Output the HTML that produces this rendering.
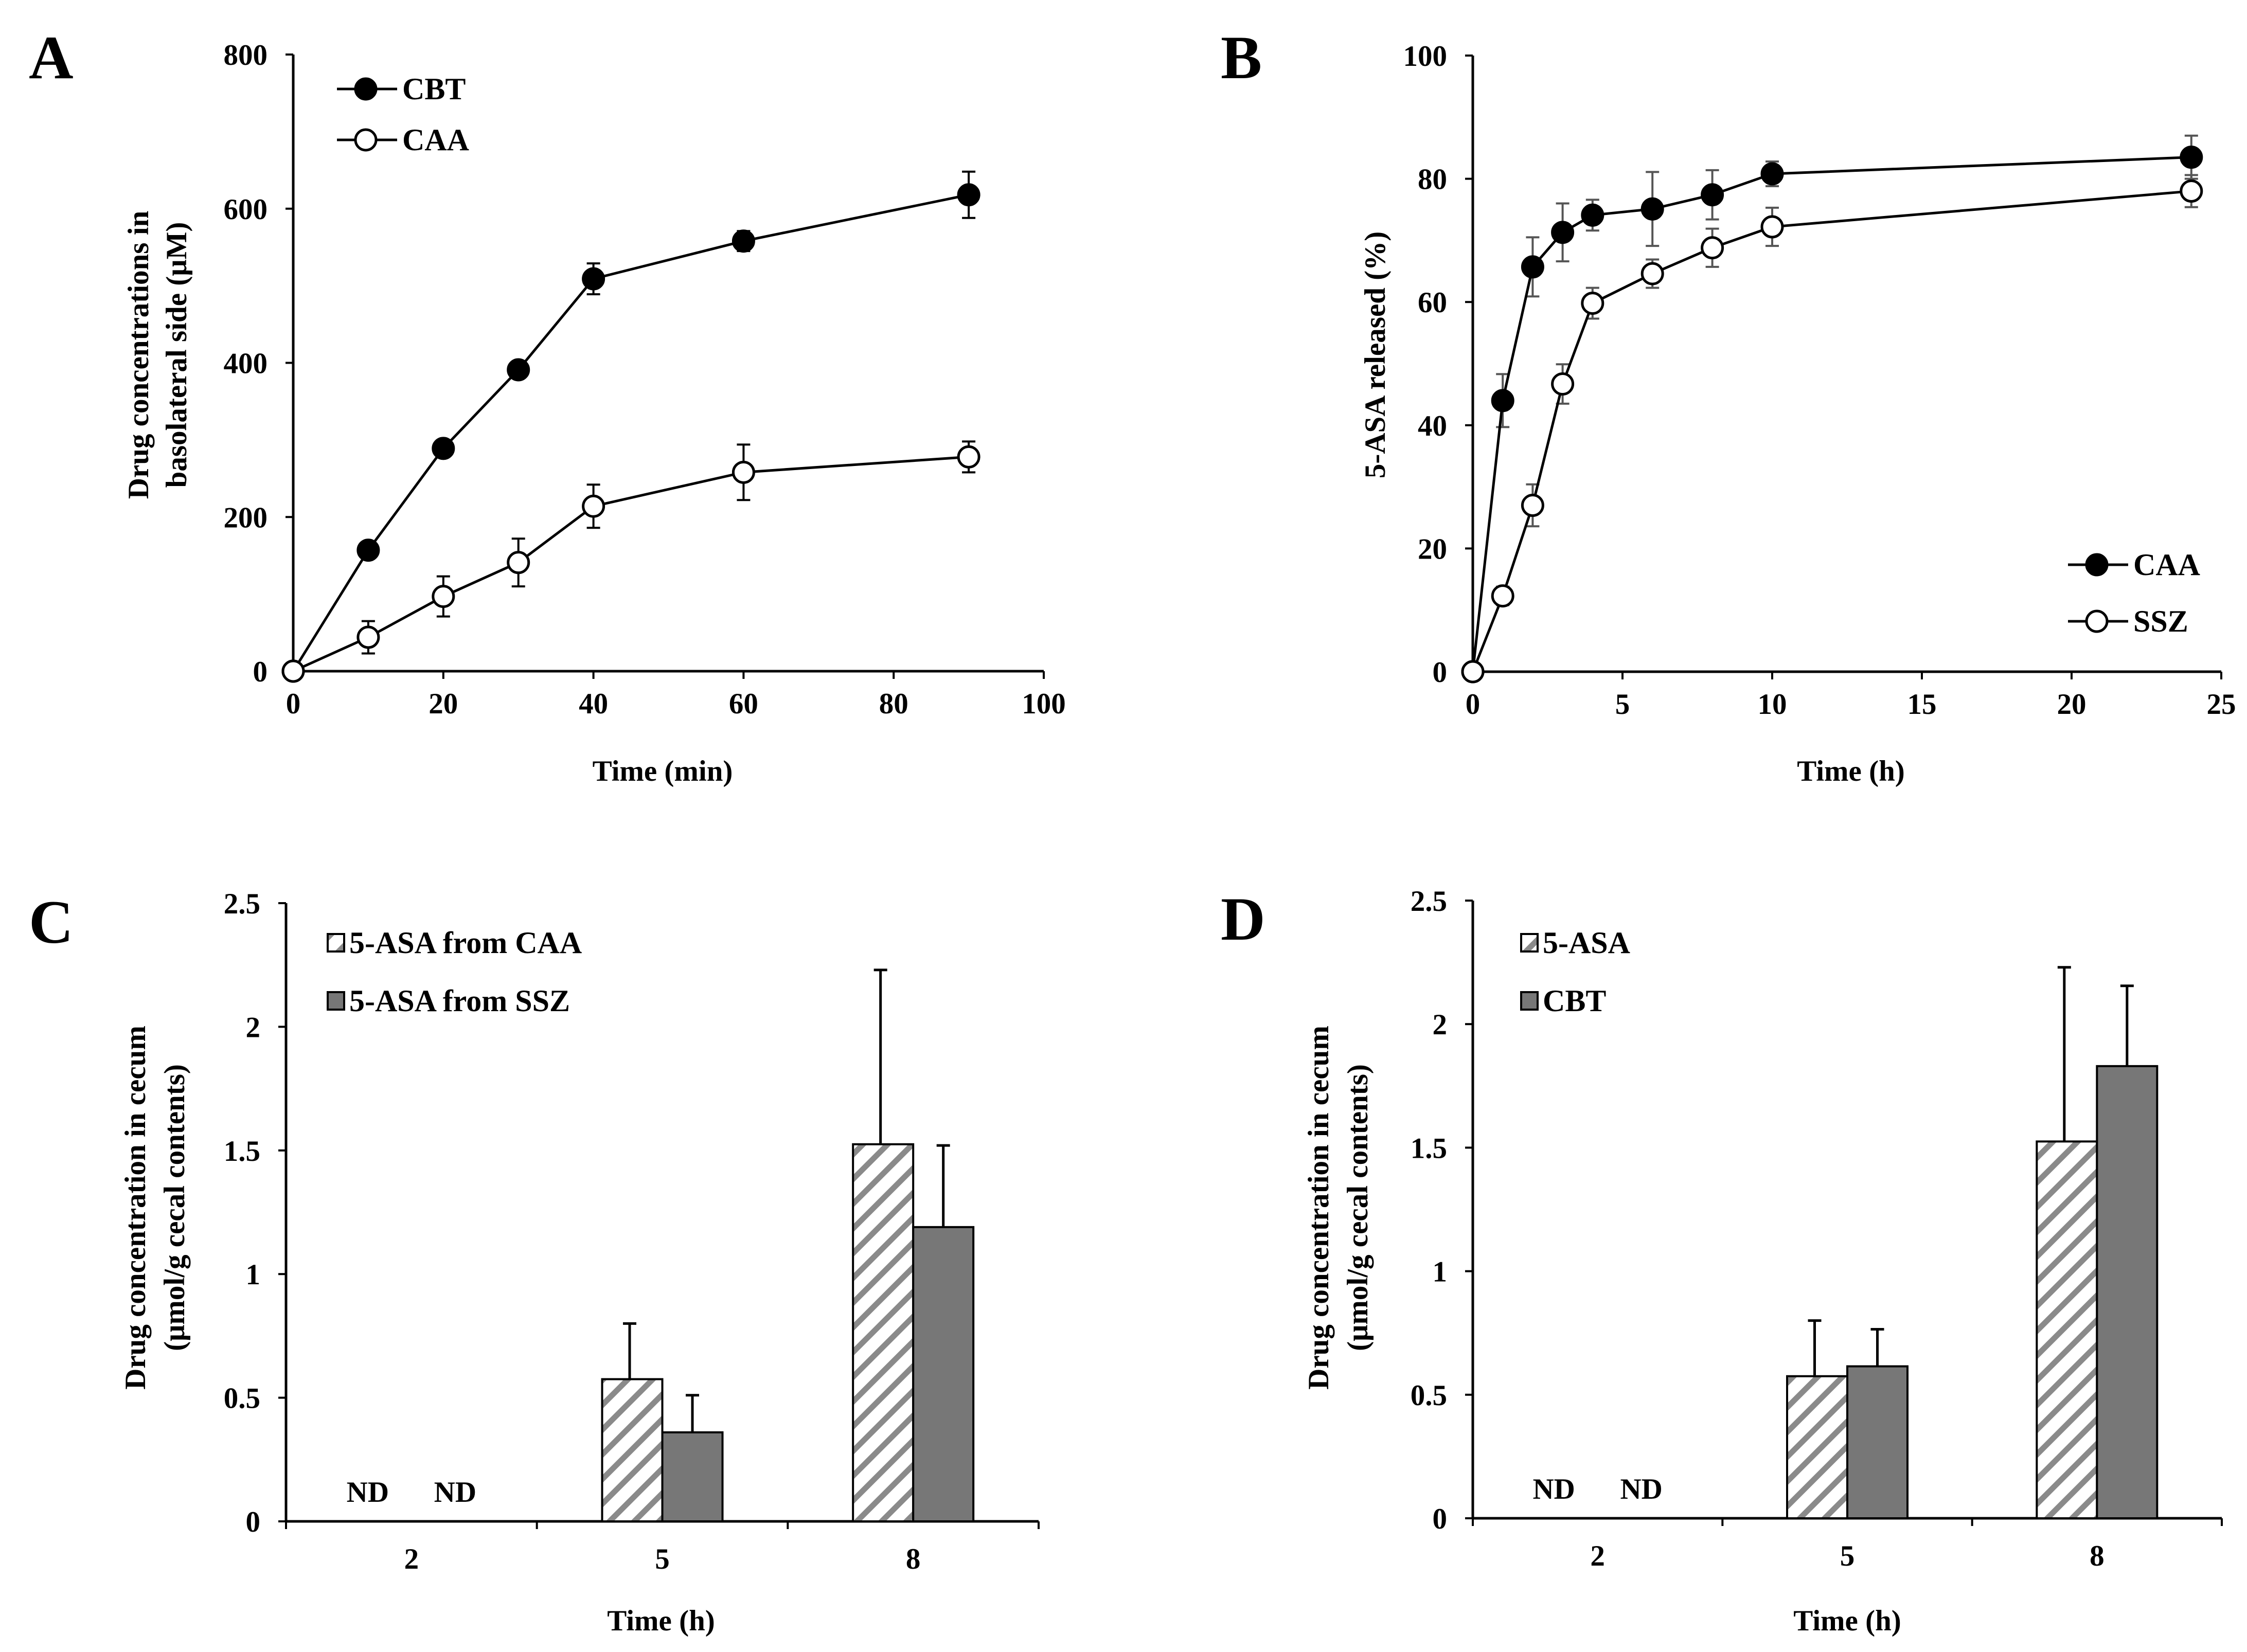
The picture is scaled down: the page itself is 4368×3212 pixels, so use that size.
<!DOCTYPE html>
<html><head><meta charset="utf-8">
<style>
html,body{margin:0;padding:0;background:#fff;}
svg{display:block;font-family:"Liberation Serif",serif;font-weight:bold;}
</style></head>
<body>
<svg id="fig" width="4368" height="3212" viewBox="0 0 4368 3212" xmlns="http://www.w3.org/2000/svg">
<defs>
<pattern id="hatch" patternUnits="userSpaceOnUse" width="34" height="34" patternTransform="rotate(45)">
<rect width="34" height="34" fill="#fff"/>
<rect x="0" y="0" width="11" height="34" fill="#8a8a8a"/>
</pattern>
</defs>
</svg>
<script>
// Panel A data
const aTime=[0,10,20,30,40,60,90];
const aCBT=[0,157,289,391,509,558,618];
const aCBTerr=[0,0,0,0,20,13,30];
const aCAA=[0,44,97,141,214,258,278];
const aCAAerr=[0,21,26,31,28,36,20];
const aXTicks=[0,20,40,60,80,100];
const aYTicks=[0,200,400,600,800];
// Panel B data
const bTime=[0,1,2,3,4,6,8,10,24];
const bCAA=[0,44,65.7,71.3,74.1,75.1,77.4,80.8,83.5];
const bCAAerr=[0,4.3,4.8,4.7,2.5,6,4,2,3.5];
const bSSZ=[0,12.3,27,46.7,59.8,64.6,68.8,72.2,78];
const bSSZerr=[0,1.5,3.4,3.2,2.5,2.3,3.1,3.1,2.6];
const bXTicks=[0,5,10,15,20,25];
const bYTicks=[0,20,40,60,80,100];
// Panel C data
const barCats=["2","5","8"];
const cCAA=[0,0.575,1.525];
const cCAAerr=[0,0.225,0.705];
const cSSZ=[0,0.36,1.19];
const cSSZerr=[0,0.15,0.33];
// Panel D data
const dASA=[0,0.575,1.525];
const dASAerr=[0,0.225,0.705];
const dCBT=[0,0.615,1.83];
const dCBTerr=[0,0.15,0.325];
const barYTicks=[0,0.5,1,1.5,2,2.5];
const barYLabels=["0","0.5","1","1.5","2","2.5"];

const NS="http://www.w3.org/2000/svg";
const svg=document.getElementById('fig');
const FS=57;
function el(tag,attrs,parent,text){const e=document.createElementNS(NS,tag);for(const k in attrs)e.setAttribute(k,attrs[k]);if(text!==undefined)e.textContent=text;(parent||svg).appendChild(e);return e;}
function grp(name){const g=el('g',{});return g;}
function txt(g,x,y,s,size,anchor,name,rot){const t=el('text',{x:x,y:y,'font-size':size,'text-anchor':anchor||'middle'},g,s);if(rot)t.setAttribute('transform','rotate(-90 '+x+' '+y+')');return t;}

function linePanel(o){
  const g=grp(o.name);
  const X=v=>o.x0+(v-o.xmin)/(o.xmax-o.xmin)*(o.x1-o.x0);
  const Y=v=>o.y0-(v-0)/(o.ymax)*(o.y0-o.y1);
  const ax=grp(o.name+'-axes');g.appendChild(ax);
  el('line',{x1:o.x0,y1:o.y1,x2:o.x0,y2:o.y0,stroke:'#000','stroke-width':5},ax);
  el('line',{x1:o.x0,y1:o.y0,x2:o.x1,y2:o.y0,stroke:'#000','stroke-width':5},ax);
  o.yticks.forEach(v=>{el('line',{x1:o.x0-15,y1:Y(v),x2:o.x0,y2:Y(v),stroke:'#000','stroke-width':4},ax);txt(ax,o.x0-50,Y(v)+20,String(v),FS,'end','y-tick-label');});
  o.xticks.forEach(v=>{el('line',{x1:X(v),y1:o.y0,x2:X(v),y2:o.y0+15,stroke:'#000','stroke-width':4},ax);txt(ax,X(v),o.y0+82,String(v),FS,'middle','x-tick-label');});
  o.series.forEach(s=>{
    const sg=grp('series-'+s.label.toLowerCase());g.appendChild(sg);
    s.vals.forEach((v,i)=>{if(s.err[i]>0){const x=X(o.xs[i]);const e=el('path',{d:`M${x},${Y(v-s.err[i])}V${Y(v+s.err[i])}M${x-13},${Y(v+s.err[i])}h26M${x-13},${Y(v-s.err[i])}h26`,stroke:o.errColor,'stroke-width':4,fill:'none'},sg);}});
    el('polyline',{points:s.vals.map((v,i)=>X(o.xs[i])+','+Y(v)).join(' '),fill:'none',stroke:'#000','stroke-width':5},sg);
    s.vals.forEach((v,i)=>{const c=el('circle',{cx:X(o.xs[i]),cy:Y(v),r:20,fill:s.fill,stroke:'#000','stroke-width':5},sg);});
  });
  o.legend.forEach(l=>{
    const lg=grp('legend-entry');g.appendChild(lg);
    el('line',{x1:l.x,y1:l.y,x2:l.x+117,y2:l.y,stroke:'#000','stroke-width':5},lg);
    el('circle',{cx:l.x+56,cy:l.y,r:20,fill:l.fill,stroke:'#000','stroke-width':5},lg);
    txt(lg,l.x+127,l.y+20,l.label,60,'start','legend-label');
  });
  return g;
}

function barPanel(o){
  const g=grp(o.name);
  const cw=(o.x1-o.x0)/o.cats.length;
  const Y=v=>o.y0-v/2.5*(o.y0-o.y1);
  const C=i=>o.x0+cw*(i+0.5);
  const bw=117;
  const ax=grp(o.name+'-axes');g.appendChild(ax);
  el('line',{x1:o.x0,y1:o.y1,x2:o.x0,y2:o.y0,stroke:'#000','stroke-width':5},ax);
  barYTicks.forEach((v,i)=>{el('line',{x1:o.x0-15,y1:Y(v),x2:o.x0,y2:Y(v),stroke:'#000','stroke-width':4},ax);txt(ax,o.x0-50,Y(v)+20,barYLabels[i],FS,'end','y-tick-label');});
  for(let i=0;i<=o.cats.length;i++){el('line',{x1:o.x0+cw*i,y1:o.y0,x2:o.x0+cw*i,y2:o.y0+15,stroke:'#000','stroke-width':4},ax);}
  o.cats.forEach((c,i)=>txt(ax,C(i),o.y0+92,c,FS,'middle','x-tick-label'));
  o.series.forEach((s,k)=>{
    const sg=grp('series-'+k);g.appendChild(sg);
    s.vals.forEach((v,i)=>{
      const xl=C(i)+(k===0?-bw:0);
      if(v<=0){txt(sg,C(i)+(k===0?-85:85),o.y0-38,'ND',FS,'middle','nd-label');return;}
      const r=el('rect',{x:xl,y:Y(v),width:bw,height:Y(0)-Y(v),fill:s.fill,stroke:'#000','stroke-width':4},sg);
      
      const xc=xl+bw/2+(k===0?-5:0);
      const e=el('path',{d:`M${xc},${Y(v)}V${Y(v+s.err[i])}M${xc-13},${Y(v+s.err[i])}h26`,stroke:'#000','stroke-width':5,fill:'none'},sg);
      
    });
  });
  el('line',{x1:o.x0,y1:o.y0,x2:o.x1,y2:o.y0,stroke:'#000','stroke-width':5},ax);
  o.legend.forEach((l,k)=>{
    const lg=grp('legend-entry');g.appendChild(lg);
    el('rect',{x:o.lx,y:l.y-17,width:32,height:34,fill:l.fill,stroke:'#000','stroke-width':4},lg);
    txt(lg,o.lx+42,l.y+20,l.label,60,'start','legend-label');
  });
  return g;
}

// Panel letters & titles
const lab=grp('panel-labels');
txt(lab,56,152,'A',120,'start','panel-label-a');
txt(lab,2373,152,'B',120,'start','panel-label-b');
txt(lab,56,1833,'C',120,'start','panel-label-c');
txt(lab,2373,1827,'D',120,'start','panel-label-d');

linePanel({name:'panel-a',x0:570,x1:2029,y0:1305,y1:106,xmin:0,xmax:100,ymax:800,xs:aTime,xticks:aXTicks,yticks:aYTicks,errColor:'#000',
  series:[{label:'CBT',vals:aCBT,err:aCBTerr,fill:'#000'},{label:'CAA',vals:aCAA,err:aCAAerr,fill:'#fff'}],
  legend:[{x:655,y:173,label:'CBT',fill:'#000'},{x:655,y:272,label:'CAA',fill:'#fff'}]});
const at=grp('panel-a-titles');
txt(at,288,690,'Drug concentrations in',57,'middle','y-axis-title',true);
txt(at,362,690,'basolateral side (μM)',57,'middle','y-axis-title',true);
txt(at,1288,1518,'Time (min)',57,'middle','x-axis-title');

linePanel({name:'panel-b',x0:2863,x1:4318,y0:1306,y1:108,xmin:0,xmax:25,ymax:100,xs:bTime,xticks:bXTicks,yticks:bYTicks,errColor:'#555',
  series:[{label:'CAA',vals:bCAA,err:bCAAerr,fill:'#000'},{label:'SSZ',vals:bSSZ,err:bSSZerr,fill:'#fff'}],
  legend:[{x:4020,y:1098,label:'CAA',fill:'#000'},{x:4020,y:1208,label:'SSZ',fill:'#fff'}]});
const bt=grp('panel-b-titles');
txt(bt,2692,690,'5-ASA released (%)',57,'middle','y-axis-title',true);
txt(bt,3598,1518,'Time (h)',57,'middle','x-axis-title');

barPanel({name:'panel-c',x0:556,x1:2019,y0:2958,y1:1756,cats:barCats,lx:637,
  series:[{vals:cCAA,err:cCAAerr,fill:'url(#hatch)'},{vals:cSSZ,err:cSSZerr,fill:'#777'}],
  legend:[{y:1833,label:'5-ASA from CAA',fill:'url(#hatch)'},{y:1946,label:'5-ASA from SSZ',fill:'#777'}]});
const ct=grp('panel-c-titles');
txt(ct,282,2348,'Drug concentration in cecum',57,'middle','y-axis-title',true);
txt(ct,358,2348,'(μmol/g cecal contents)',57,'middle','y-axis-title',true);
txt(ct,1285,3170,'Time (h)',57,'middle','x-axis-title');

barPanel({name:'panel-d',x0:2863,x1:4319,y0:2952,y1:1751,cats:barCats,lx:2957,
  series:[{vals:dASA,err:dASAerr,fill:'url(#hatch)'},{vals:dCBT,err:dCBTerr,fill:'#777'}],
  legend:[{y:1833,label:'5-ASA',fill:'url(#hatch)'},{y:1946,label:'CBT',fill:'#777'}]});
const dt=grp('panel-d-titles');
txt(dt,2582,2348,'Drug concentration in cecum',57,'middle','y-axis-title',true);
txt(dt,2658,2348,'(μmol/g cecal contents)',57,'middle','y-axis-title',true);
txt(dt,3591,3170,'Time (h)',57,'middle','x-axis-title');
</script>
</body></html>
